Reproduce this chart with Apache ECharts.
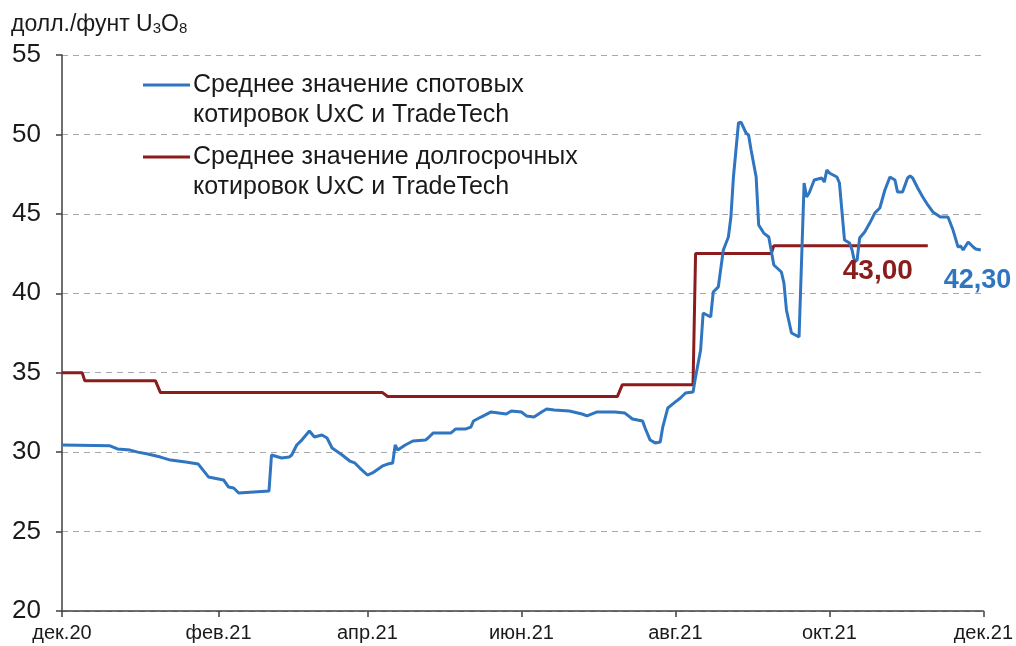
<!DOCTYPE html>
<html>
<head>
<meta charset="utf-8">
<script src="https://cdn.jsdelivr.net/npm/echarts@6/dist/echarts.min.js"></script>
<style>
  html, body { margin: 0; padding: 0; background: #fff; }
  #chart { width: 1016px; height: 646px; }
</style>
</head>
<body>
<div id="chart"></div>
<script>
// дни от 1 декабря 2020 г. и значения, долл./фунт U3O8
var spotDays = [0, 19, 22, 27, 30, 34, 39, 43, 49, 54, 58, 64, 66, 68, 70, 82, 83, 87, 90, 91,
  93, 95, 98, 100, 103, 105, 107, 111, 114, 116, 118, 121, 123, 127, 129, 131, 132, 133, 136, 139,
  144, 145, 147, 154, 156, 160, 162, 163, 166, 170, 176, 178, 182, 184, 187, 190, 192, 195, 201, 206,
  208, 212, 219, 223, 226, 230, 231, 233, 235, 237, 238, 240, 243, 245, 247, 250, 251, 253, 254, 257,
  258, 260, 262, 264, 265, 266, 268, 269, 271, 272, 273, 275, 276, 278, 280, 282, 285, 286, 287, 289,
  292, 294, 295, 296, 298, 301, 302, 303, 304, 307, 308, 310, 312, 313, 314, 315, 316, 318, 320, 322,
  324, 326, 328, 330, 331, 333, 335, 336, 337, 339, 341, 343, 345, 348, 351, 353, 355, 356, 357, 359,
  361, 362, 364];
var spotValues = [30.45, 30.4, 30.2, 30.13, 30.0, 29.88, 29.69, 29.5, 29.38, 29.25, 28.44, 28.25, 27.8, 27.74, 27.43, 27.55, 29.82, 29.63, 29.69, 29.82,
  30.45, 30.76, 31.33, 30.95, 31.08, 30.89, 30.26, 29.82, 29.44, 29.32, 29.0, 28.56, 28.69, 29.13, 29.25, 29.32, 30.45, 30.13, 30.45, 30.7,
  30.76, 30.89, 31.2, 31.2, 31.46, 31.46, 31.58, 31.96, 32.21, 32.53, 32.4, 32.59, 32.53, 32.28, 32.21, 32.53, 32.72, 32.65, 32.59, 32.4,
  32.28, 32.53, 32.53, 32.46, 32.09, 31.96, 31.52, 30.76, 30.58, 30.64, 31.58, 32.78, 33.16, 33.41, 33.72, 33.79, 34.73, 36.43, 38.76, 38.51,
  40.08, 40.4, 42.72, 43.54, 44.8, 47.32, 50.72, 50.78, 50.09, 49.96, 49.02, 47.32, 44.3, 43.79, 43.54, 41.78, 41.34, 40.65, 38.95, 37.5,
  37.25, 46.94, 46.06, 46.31, 47.13, 47.26, 47.0, 47.76, 47.57, 47.32, 46.94, 43.35, 43.16, 42.72, 41.97, 42.1, 43.48, 43.86, 44.42, 45.05,
  45.37, 46.5, 47.32, 47.13, 46.38, 46.38, 47.26, 47.38, 47.26, 46.63, 46.06, 45.56, 45.12, 44.8, 44.8, 43.98, 42.91, 42.98, 42.72, 43.23,
  42.91, 42.79, 42.72];

var termDays = [0, 8, 9, 37, 39, 127, 129, 220, 222, 250, 251, 281, 282, 343];
var termValues = [35.0, 35.0, 34.5, 34.5, 33.75, 33.75, 33.5, 33.5, 34.25, 34.25, 42.5, 42.5, 43.0, 43.0];

var seriesNames = ['Среднее значение спотовых\nкотировок UxC и TradeTech',
                   'Среднее значение долгосрочных\nкотировок UxC и TradeTech'];
var endLabels = ['42,30', '43,00'];

// 1-е число месяца, дни от 1 декабря 2020 г.
var tickDays = [0, 62, 121, 182, 243, 304, 365];
var tickLabels = ['дек.20', 'фев.21', 'апр.21', 'июн.21', 'авг.21', 'окт.21', 'дек.21'];

var blue = '#2f75c0';
var red = '#8a1c1c';
var font = 'Liberation Sans, Arial, sans-serif';

function toPairs(days, vals) {
    var out = [];
    for (var i = 0; i < days.length; i++) {
        out.push([days[i], vals[i]]);
    }
    return out;
}

var myChart = echarts.init(document.getElementById('chart'));
var option = {
    animation: false,
    backgroundColor: '#fff',
    title: {
        left: 6, top: 5,
        text: '{a|долл./фунт U}{s|3}{a|O}{s|8}',
        textStyle: {
            rich: {
                a: { fontFamily: font, fontSize: 23, fontWeight: 'normal', color: '#1a1a1a', lineHeight: 26, verticalAlign: 'bottom' },
                s: { fontFamily: font, fontSize: 15, fontWeight: 'normal', color: '#1a1a1a', lineHeight: 13, verticalAlign: 'bottom' }
            }
        }
    },
    grid: { left: 62, right: 29, top: 55, bottom: 35 },
    xAxis: {
        type: 'value',
        min: 0,
        max: 365,
        axisLine: { lineStyle: { color: '#404040', width: 1.5 } },
        axisTick: { show: true, length: 6, lineStyle: { color: '#404040', width: 1.5 }, customValues: tickDays },
        axisLabel: {
            customValues: tickDays,
            margin: 12,
            fontFamily: font, fontSize: 20, color: '#1a1a1a',
            formatter: function (v) {
                var i = tickDays.indexOf(v);
                return i >= 0 ? tickLabels[i] : '';
            }
        },
        splitLine: { show: false }
    },
    yAxis: {
        type: 'value',
        min: 20, max: 55, interval: 5,
        axisLine: { show: true, lineStyle: { color: '#404040', width: 1.5 } },
        axisTick: { show: true, length: 6, lineStyle: { color: '#404040', width: 1.5 } },
        axisLabel: { margin: 21, fontFamily: font, fontSize: 26, color: '#1a1a1a' },
        splitLine: { lineStyle: { color: '#a8a8a8', type: [6, 5], width: 1.2 } }
    },
    graphic: [
        { type: 'line', shape: { x1: 143, y1: 85, x2: 190, y2: 85 }, style: { stroke: blue, lineWidth: 3 } },
        { type: 'text', left: 193, top: 70, style: { text: seriesNames[0], font: '25px ' + font, fill: '#1a1a1a', lineHeight: 30 } },
        { type: 'line', shape: { x1: 143, y1: 157, x2: 190, y2: 157 }, style: { stroke: red, lineWidth: 3 } },
        { type: 'text', left: 193, top: 142, style: { text: seriesNames[1], font: '25px ' + font, fill: '#1a1a1a', lineHeight: 30 } }
    ],
    series: [
        {
            name: seriesNames[1],
            type: 'line',
            showSymbol: false,
            data: toPairs(termDays, termValues),
            lineStyle: { color: red, width: 3 },
            itemStyle: { color: red },
            endLabel: {
                show: true,
                formatter: function () { return endLabels[1]; },
                offset: [-93, 26],
                fontFamily: font, fontSize: 28, fontWeight: 'bold', color: red
            }
        },
        {
            name: seriesNames[0],
            type: 'line',
            showSymbol: false,
            data: toPairs(spotDays, spotValues),
            lineStyle: { color: blue, width: 3 },
            itemStyle: { color: blue },
            endLabel: {
                show: true,
                formatter: function () { return endLabels[0]; },
                offset: [-45, 30],
                fontFamily: font, fontSize: 27, fontWeight: 'bold', color: blue
            }
        }
    ]
};
myChart.setOption(option);
window.addEventListener('resize', function () {
    myChart.resize();
});
</script>
</body>
</html>
